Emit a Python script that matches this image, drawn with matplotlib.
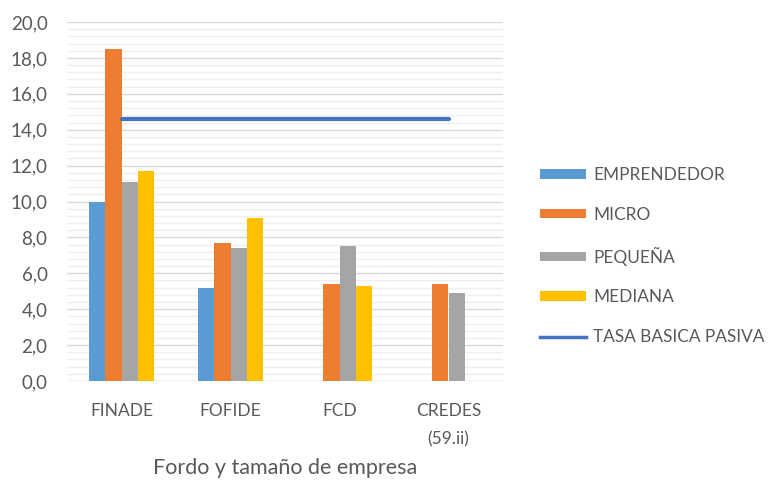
import matplotlib.pyplot as plt
from matplotlib.lines import Line2D
from matplotlib.patches import Patch
from matplotlib.ticker import MultipleLocator, FuncFormatter
import numpy as np

plt.rcParams['font.family'] = ['Lato', 'DejaVu Sans']

categories = ["FINADE", "FOFIDE", "FCD", "CREDES\n(59.ii)"]
series_names = ["EMPRENDEDOR", "MICRO", "PEQUEÑA", "MEDIANA"]
emprendedor = [10.0, 5.2, 0.0, 0.0]
micro = [18.5, 7.7, 5.4, 5.4]
pequena = [11.1, 7.4, 7.5, 4.9]
mediana = [11.7, 9.1, 5.3, 0.0]
tasa_basica = [14.6, 14.6, 14.6, 14.6]
line_name = "TASA BASICA PASIVA"

colors = ["#5B9BD5", "#ED7D31", "#A5A5A5", "#FFC000"]
line_color = "#4472C4"
text_color = "#595959"

fig = plt.figure(figsize=(7.74, 4.82), dpi=100)
ax = fig.add_axes([67 / 774, 1 - 381 / 482, (503 - 67) / 774, (381 - 22) / 482])

x = np.arange(len(categories))
width = 0.147
for i, (vals, col) in enumerate(zip([emprendedor, micro, pequena, mediana], colors)):
    ax.bar(x + (i - 1.5) * width, vals, width=width, color=col, zorder=3)
ax.plot(x, tasa_basica, color=line_color, lw=3, zorder=4, solid_capstyle='round')

ax.set_xlim(-0.5, len(categories) - 0.5)
ax.set_ylim(0, 20)
ax.yaxis.set_major_locator(MultipleLocator(2))
ax.yaxis.set_minor_locator(MultipleLocator(0.4))
ax.yaxis.set_major_formatter(FuncFormatter(lambda v, p: f"{v:.1f}".replace(".", ",")))
ax.grid(axis='y', which='major', color='#D9D9D9', lw=1, zorder=0)
ax.grid(axis='y', which='minor', color='#EFEFEF', lw=1, zorder=0)
for s in ax.spines.values():
    s.set_visible(False)
ax.axhline(0, color='#D9D9D9', lw=1, zorder=2)

ax.set_xticks(x)
ax.set_xticklabels(categories, fontsize=12.5, color=text_color, va='top', linespacing=1.9)
ax.tick_params(axis='x', length=0, pad=16)
ax.tick_params(axis='y', which='both', length=0, pad=14, labelsize=13.5, labelcolor=text_color)
ax.set_xlabel("Fordo y tamaño de empresa", fontsize=15.5, color=text_color, labelpad=8)

handles = [Patch(facecolor=c, edgecolor='none') for c in colors]
handles.append(Line2D([0], [0], color=line_color, lw=2.5))
fig.legend(handles, series_names + [line_name], loc='center left',
           bbox_to_anchor=(540 / 774, 1 - 256 / 482), frameon=False,
           borderaxespad=0, borderpad=0, fontsize=12.4, labelcolor=text_color,
           handlelength=2.65, handleheight=0.48, handletextpad=0.45, labelspacing=1.38)

fig.savefig("out.png", dpi=100)
